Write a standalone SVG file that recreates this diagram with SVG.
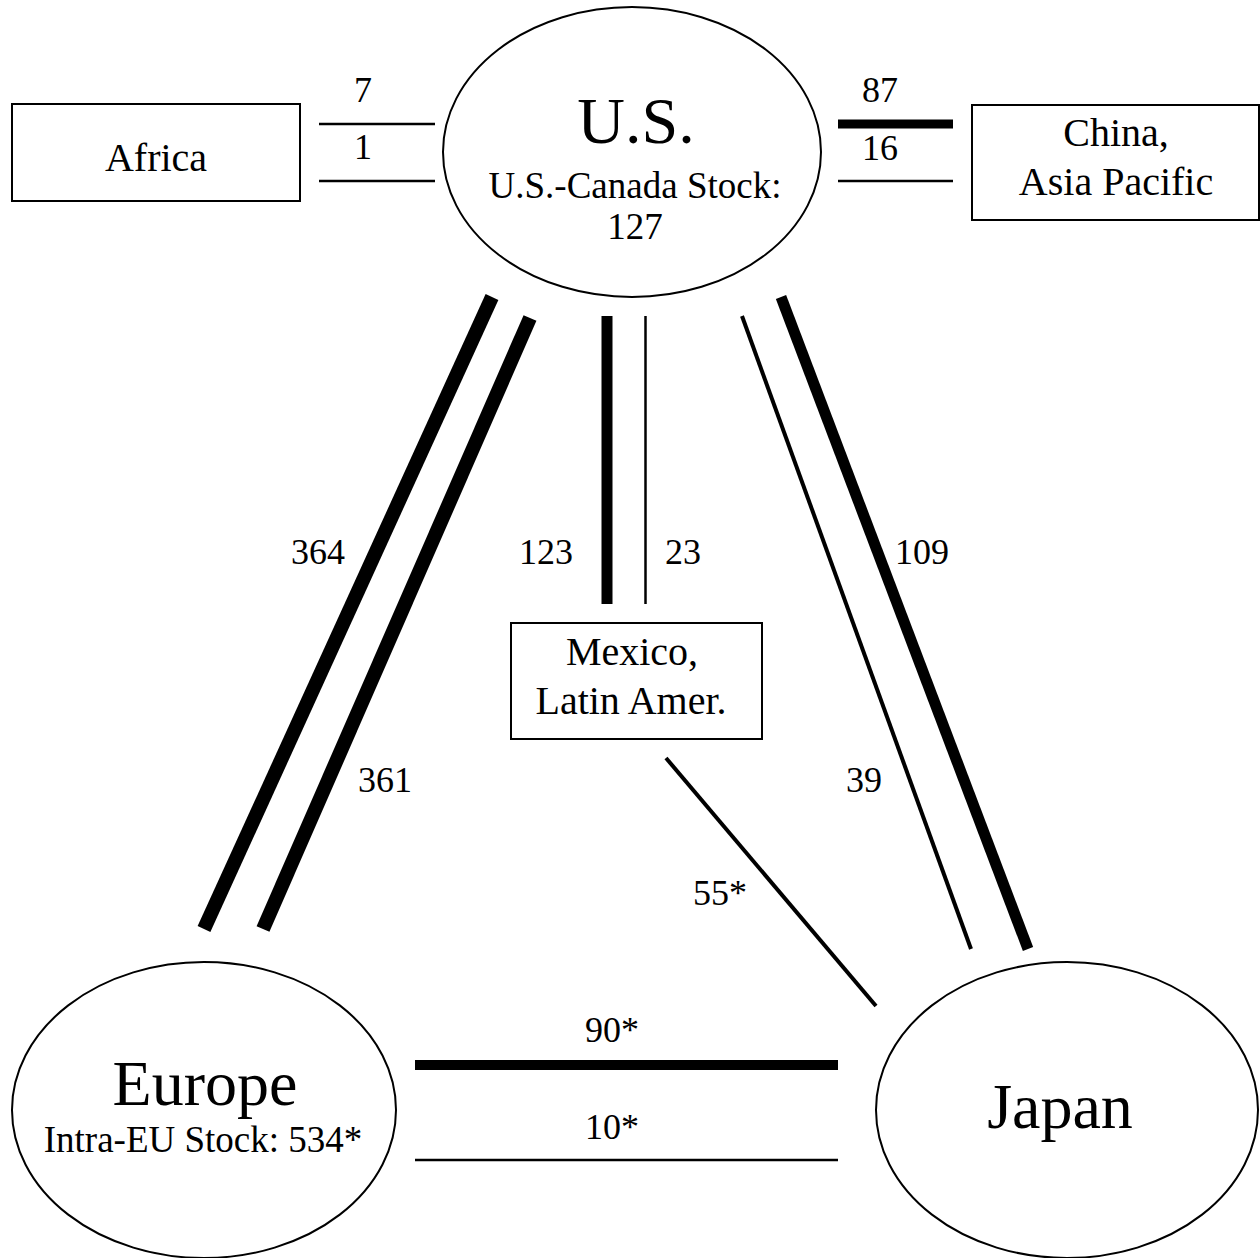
<svg xmlns="http://www.w3.org/2000/svg" width="1260" height="1258" viewBox="0 0 1260 1258">
<style>
text{font-family:"Liberation Serif","Times New Roman",serif;fill:#000;text-anchor:middle}
.big{font-size:64px}
.sub{font-size:37px}
.lbl{font-size:40px}
.num{font-size:36px}
.shape{fill:#fff;stroke:#000;stroke-width:2}
.thin{stroke:#000;stroke-width:2.5;fill:none}
.mid{stroke:#000;stroke-width:4;fill:none}
.thick{stroke:#000;stroke-width:11;fill:none}
</style>
<rect width="1260" height="1258" fill="#fff"/>
<g id="connectors">
  <line class="thin" x1="319" y1="124" x2="435" y2="124"/>
  <line class="thin" x1="319" y1="181" x2="435" y2="181"/>
  <line class="thick" x1="838" y1="124" x2="953" y2="124" style="stroke-width:9"/>
  <line class="thin" x1="838" y1="181" x2="953" y2="181"/>
  <line class="thick" x1="492" y1="297" x2="204" y2="929" style="stroke-width:14"/>
  <line class="thick" x1="530" y1="318" x2="263" y2="929" style="stroke-width:14"/>
  <line class="thick" x1="607" y1="316" x2="607" y2="604"/>
  <line class="thin" x1="645.5" y1="316" x2="645.5" y2="604"/>
  <line class="mid" x1="742" y1="316" x2="971" y2="949"/>
  <line class="thick" x1="781" y1="297" x2="1028" y2="949"/>
  <line class="mid" x1="666" y1="758" x2="876" y2="1006"/>
  <line class="thick" x1="415" y1="1065" x2="838" y2="1065" style="stroke-width:10"/>
  <line class="thin" x1="415" y1="1160" x2="838" y2="1160"/>
  <text class="num" x="363" y="102">7</text>
  <text class="num" x="363" y="159">1</text>
  <text class="num" x="880" y="102">87</text>
  <text class="num" x="880" y="160">16</text>
  <text class="num" x="318" y="564">364</text>
  <text class="num" x="385" y="792">361</text>
  <text class="num" x="546" y="564">123</text>
  <text class="num" x="683" y="564">23</text>
  <text class="num" x="922" y="564">109</text>
  <text class="num" x="864" y="792">39</text>
  <text class="num" x="720" y="905">55*</text>
  <text class="num" x="612" y="1042">90*</text>
  <text class="num" x="612" y="1139">10*</text>
</g>
<g id="us">
  <ellipse class="shape" cx="632" cy="152" rx="189" ry="145"/>
  <text class="big" x="636" y="143" style="font-size:66px">U.S.</text>
  <text class="sub" x="635" y="198">U.S.-Canada Stock:</text>
  <text class="sub" x="635" y="239">127</text>
</g>
<g id="africa">
  <rect class="shape" x="12" y="104" width="288" height="97"/>
  <text class="lbl" x="156" y="171">Africa</text>
</g>
<g id="china">
  <rect class="shape" x="972" y="105" width="287" height="115"/>
  <text class="lbl" x="1116" y="146">China,</text>
  <text class="lbl" x="1116" y="195">Asia Pacific</text>
</g>
<g id="mexico">
  <rect class="shape" x="511" y="623" width="251" height="116"/>
  <text class="lbl" x="632" y="665">Mexico,</text>
  <text class="lbl" x="631" y="714">Latin Amer.</text>
</g>
<g id="europe">
  <ellipse class="shape" cx="204" cy="1110" rx="192" ry="148"/>
  <text class="big" x="205" y="1105">Europe</text>
  <text class="sub" x="203" y="1152">Intra-EU Stock: 534*</text>
</g>
<g id="japan">
  <ellipse class="shape" cx="1067" cy="1110" rx="191" ry="148"/>
  <text class="big" x="1060" y="1128">Japan</text>
</g>
</svg>
